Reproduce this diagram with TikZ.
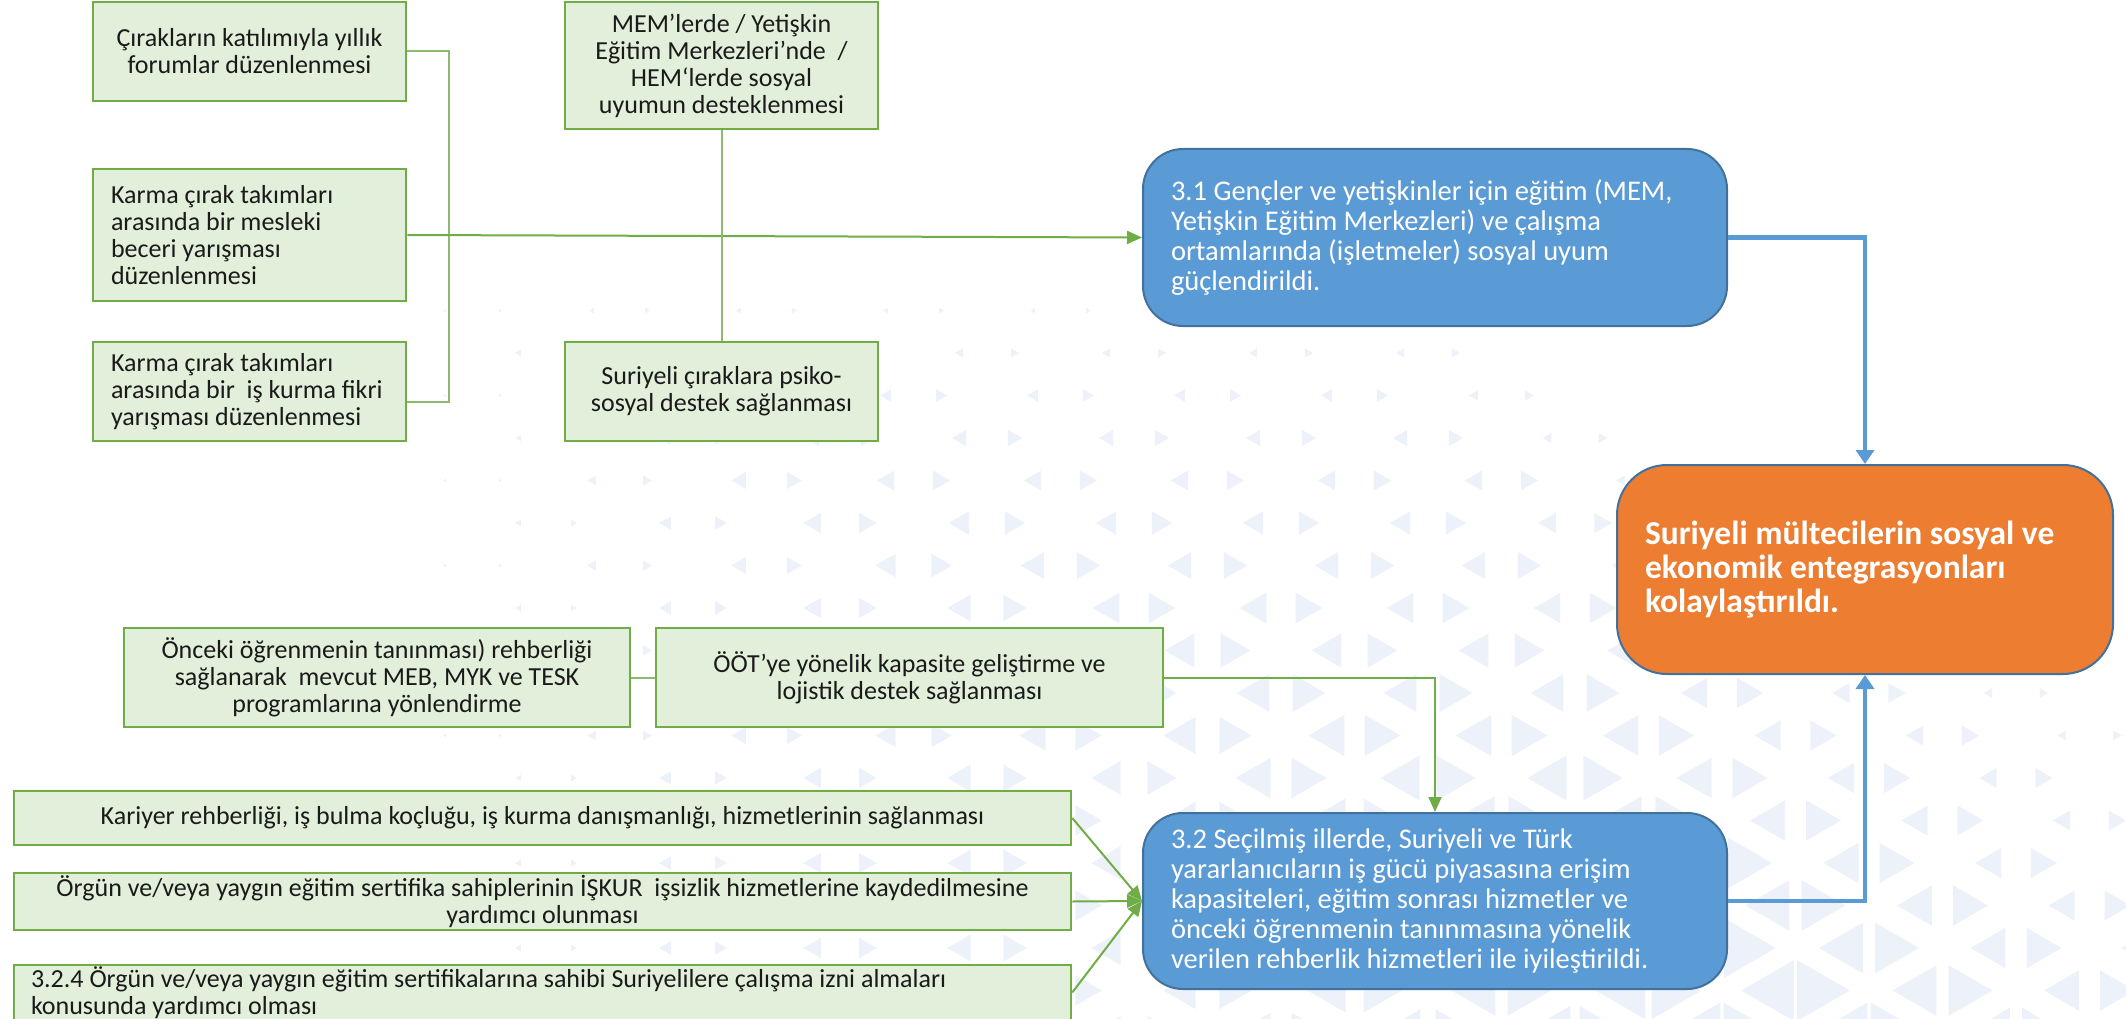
\documentclass[tikz,border=0pt]{standalone}
\usepackage{fontspec}
\setmainfont{Carlito}
\usetikzlibrary{arrows.meta,calc}
\definecolor{gfill}{HTML}{E2EFDA}
\definecolor{gline}{HTML}{70AD47}
\definecolor{cline}{HTML}{8DBA6E}
\definecolor{bfill}{HTML}{5B9BD5}
\definecolor{bline}{HTML}{41719C}
\definecolor{ofill}{HTML}{ED7D31}
\definecolor{bgc}{HTML}{EDF2FA}
\definecolor{txt}{HTML}{1A1A1A}
\newcommand\nsp{\spaceskip=0pt\xspaceskip=0pt\relax}
\tikzset{
  gbox/.style={draw=gline, fill=gfill, line width=2.5pt, inner sep=0pt, text=txt,
    font=\fontsize{26}{27}\selectfont},
  gcenter/.style={gbox, align=center},
  gleft/.style={gbox, align=flush left},
  bbox/.style={draw=bline, fill=bfill, line width=2pt, rounded corners=40pt, inner sep=0pt,
    text=white, font=\fontsize{28.5}{30}\selectfont, align=flush left, text width=528pt,
    minimum width=584pt},
  obox/.style={draw=bline, fill=ofill, line width=2pt, rounded corners=50pt, inner sep=0pt,
    text=white, font=\bfseries\fontsize{33.5}{34}\selectfont, align=flush left, text width=440pt,
    minimum width=496pt},
  conn/.style={draw=cline, line width=2pt},
  garrow/.style={draw=gline, line width=2pt, -{Triangle[length=15pt,width=13pt]}},
  barrow/.style={draw=bfill, line width=4.5pt, -{Triangle[length=14pt,width=18pt]}},
  bgtri/.style={fill=bgc},
}
\begin{document}
\begin{tikzpicture}[x=1pt,y=-1pt]
\fill[white] (0,0) rectangle (2126,1019);
\useasboundingbox (0,0) rectangle (2126,1019);
% background triangle pattern
\foreach \j in {-10,...,8}{
  \foreach \k in {-11,...,2}{
    \pgfmathsetmacro\yy{693+42.5*\j}
    \pgfmathsetmacro\xx{1869+147*\k-73.5*mod(abs(\j),2)}
    \pgfmathsetmacro\hh{min(9+0.085*(\yy-353),20+0.12*(\yy-693)-0.07*(\xx-1869),0.046*(\xx-400))}
    \ifdim\hh pt>3pt
      \pgfmathsetmacro\ww{0.866*\hh}
      \fill[bgtri] ({\xx-28-\ww/2},\yy) -- ({\xx-28+\ww/2},{\yy-\hh/2}) -- ({\xx-28+\ww/2},{\yy+\hh/2}) -- cycle;
      \fill[bgtri] ({\xx+28+\ww/2},\yy) -- ({\xx+28-\ww/2},{\yy-\hh/2}) -- ({\xx+28-\ww/2},{\yy+\hh/2}) -- cycle;
    \fi
  }
}
% top-left group
\node[gcenter, minimum width=313pt, minimum height=99pt] (A) at (249.5,51.5)
  {Çırakların katılımıyla yıllık\\forumlar düzenlenmesi};
\node[gleft, minimum width=313pt, minimum height=132pt, text width=277pt] (B) at (249.5,235)
  {\nsp\mbox{Karma çırak takımları}\\\mbox{arasında bir mesleki}\\\mbox{beceri yarışması}\\\mbox{düzenlenmesi}};
\node[gleft, minimum width=313pt, minimum height=99pt, text width=277pt] (C) at (249.5,391.5)
  {\nsp\mbox{Karma çırak takımları}\\\mbox{arasında bir~ iş kurma fikri}\\\mbox{yarışması düzenlenmesi}};
\node[gcenter, minimum width=313pt, minimum height=127pt] (D) at (721.5,65.5)
  {MEM’lerde / Yetişkin\\Eğitim Merkezleri’nde~ /\\HEM‘lerde sosyal\\uyumun desteklenmesi};
\node[gcenter, minimum width=313pt, minimum height=99pt] (E) at (721.5,391.5)
  {Suriyeli çıraklara psiko-\\sosyal destek sağlanması};
% outcome boxes
\node[bbox, minimum height=177pt] (b31) at (1435,237.5)
  {\nsp\mbox{3.1 Gençler ve yetişkinler için eğitim (MEM,}\\\mbox{Yetişkin Eğitim Merkezleri) ve çalışma}\\\mbox{ortamlarında (işletmeler) sosyal uyum}\\\mbox{güçlendirildi.}};
\node[obox, minimum height=209pt] (goal) at (1865,569.5)
  {\nsp\mbox{Suriyeli mültecilerin sosyal ve}\\\mbox{ekonomik entegrasyonları}\\\mbox{kolaylaştırıldı.}};
\node[bbox, minimum height=176pt] (b32) at (1435,901)
  {\nsp\mbox{3.2 Seçilmiş illerde, Suriyeli ve Türk}\\\mbox{yararlanıcıların iş gücü piyasasına erişim}\\\mbox{kapasiteleri, eğitim sonrası hizmetler ve}\\\mbox{önceki öğrenmenin tanınmasına yönelik}\\\mbox{verilen rehberlik hizmetleri ile iyileştirildi.}};
% lower group
\node[gcenter, minimum width=506pt, minimum height=99pt] (F) at (377,677.5)
  {Önceki öğrenmenin tanınması) rehberliği\\sağlanarak~ mevcut MEB, MYK ve TESK\\programlarına yönlendirme};
\node[gcenter, minimum width=507pt, minimum height=99pt] (G) at (909.5,677.5)
  {ÖÖT'ye yönelik kapasite geliştirme ve\\lojistik destek sağlanması};
\node[gcenter, minimum width=1057pt, minimum height=54pt] (H) at (542.5,818)
  {Kariyer rehberliği, iş bulma koçluğu, iş kurma danışmanlığı, hizmetlerinin sağlanması};
\node[gcenter, minimum width=1057pt, minimum height=57pt] (I) at (542.5,901.5)
  {Örgün ve/veya yaygın eğitim sertifika sahiplerinin İŞKUR~ işsizlik hizmetlerine kaydedilmesine\\yardımcı olunması};
\node[gleft, minimum width=1057pt, minimum height=55pt, text width=1023pt] (J) at (542.5,992.5)
  {\nsp\mbox{3.2.4 Örgün ve/veya yaygın eğitim sertifikalarına sahibi Suriyelilere çalışma izni almaları}\\\mbox{konusunda yardımcı olması}};
% connectors
\coordinate (jt) at (449,235);
\draw[conn] (A.east) -| (jt);
\draw[conn] ([yshift=-10pt]C.east) -| (jt);
\draw[garrow] (B.east) -- (b31.west);
\draw[conn] (D.south) -- (E.north);
\draw[conn] (F.east) -- (G.west);
\draw[garrow] (G.east) -| (b32.north);
\draw[garrow] (H.east) -- (b32.west);
\draw[garrow] (I.east) -- (b32.west);
\draw[garrow] (J.east) -- (b32.west);
\draw[barrow] (b31.east) -| (goal.north);
\draw[barrow] (b32.east) -| (goal.south);
\end{tikzpicture}
\end{document}
